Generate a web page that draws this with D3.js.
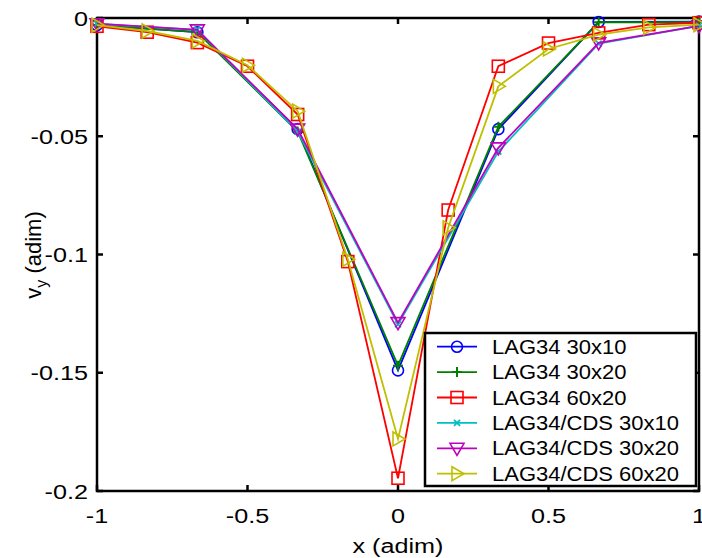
<!DOCTYPE html>
<html><head><meta charset="utf-8">
<script src="https://cdn.jsdelivr.net/npm/d3@7"></script>
<style>
body{margin:0;background:#fff;}
svg{display:block;}
text{font-family:"Liberation Sans",Arial,Helvetica,sans-serif;fill:#000;}
</style></head>
<body><svg id="c" width="702" height="558"></svg>
<script>
const x7 = [-1, -2/3, -1/3, 0, 1/3, 2/3, 1];
const x13 = [-1, -5/6, -2/3, -1/2, -1/3, -1/6, 0, 1/6, 1/3, 1/2, 2/3, 5/6, 1];
const lag30x10 = [-0.003, -0.006, -0.047, -0.149, -0.047, -0.0017, -0.0015];
const lag30x20 = [-0.003, -0.006, -0.048, -0.147, -0.046, -0.0018, -0.0018];
const lag60x20 = [-0.0035, -0.006, -0.0104, -0.0204, -0.0408, -0.103, -0.1946, -0.0812, -0.0204, -0.0106, -0.0063, -0.0028, -0.002];
const cds30x10 = [-0.0025, -0.005, -0.048, -0.1295, -0.0565, -0.0108, -0.0033];
const cds30x20 = [-0.0024, -0.005, -0.047, -0.1288, -0.0549, -0.0105, -0.0033];
const cds60x20 = [-0.003, -0.0055, -0.0097, -0.02, -0.0394, -0.102, -0.178, -0.0887, -0.0289, -0.0131, -0.007, -0.004, -0.0028];
const seriesNames = ["LAG34 30x10","LAG34 30x20","LAG34 60x20","LAG34/CDS 30x10","LAG34/CDS 30x20","LAG34/CDS 60x20"];
const xTicks = [-1, -0.5, 0, 0.5, 1];
const xTickLabels = ["-1", "-0.5", "0", "0.5", "1"];
const yTicks = [0, -0.05, -0.1, -0.15, -0.2];
const yTickLabels = ["0", "-0.05", "-0.1", "-0.15", "-0.2"];
const xLabel = "x (adim)";

const series = [
  {name: seriesNames[0], xs: x7, ys: lag30x10, color: "#0000ff", marker: "circle"},
  {name: seriesNames[1], xs: x7, ys: lag30x20, color: "#008000", marker: "plus"},
  {name: seriesNames[2], xs: x13, ys: lag60x20, color: "#ff0000", marker: "square"},
  {name: seriesNames[3], xs: x7, ys: cds30x10, color: "#00bfbf", marker: "x"},
  {name: seriesNames[4], xs: x7, ys: cds30x20, color: "#bf00bf", marker: "tridown"},
  {name: seriesNames[5], xs: x13, ys: cds60x20, color: "#bfbf00", marker: "triright"}
];

const L = 97, R = 699, T = 18, B = 491;
const svg = d3.select("#c");
const x = d3.scaleLinear().domain([-1, 1]).range([L, R]);
const y = d3.scaleLinear().domain([-0.2, 0]).range([B, T]);
const SX = 1.2;

function marker(g, type, cx, cy, color) {
  const s = 6;
  if (type === "circle") g.append("circle").attr("cx", cx).attr("cy", cy).attr("r", 5.5).attr("fill", "none").attr("stroke", color).attr("stroke-width", 1.6);
  else if (type === "square") g.append("rect").attr("x", cx - s).attr("y", cy - s).attr("width", 2*s).attr("height", 2*s).attr("fill", "none").attr("stroke", color).attr("stroke-width", 1.6);
  else if (type === "plus") g.append("path").attr("d", `M${cx-5},${cy}H${cx+5}M${cx},${cy-5}V${cy+5}`).attr("stroke", color).attr("stroke-width", 2);
  else if (type === "x") g.append("path").attr("d", `M${cx-3},${cy-3}L${cx+3},${cy+3}M${cx-3},${cy+3}L${cx+3},${cy-3}`).attr("stroke", color).attr("stroke-width", 1.8);
  else if (type === "tridown") g.append("path").attr("d", `M${cx-7},${cy-5}H${cx+7}L${cx},${cy+7}Z`).attr("fill", "none").attr("stroke", color).attr("stroke-width", 1.6);
  else if (type === "triright") g.append("path").attr("d", `M${cx-5},${cy-7}V${cy+7}L${cx+7},${cy}Z`).attr("fill", "none").attr("stroke", color).attr("stroke-width", 1.6);
}

function stretchedText(g, tx, ty, anchor, size, str, sx) {
  return g.append("text").attr("transform", `translate(${tx},${ty}) scale(${sx},1)`)
    .attr("text-anchor", anchor).attr("font-size", size).text(str);
}

// axes box
const axes = svg.append("g");
axes.append("rect").attr("x", L).attr("y", T).attr("width", R - L).attr("height", B - T).attr("fill", "none").attr("stroke", "#000").attr("stroke-width", 2.5);

// ticks (inward, all sides)
const tl = 6;
xTicks.forEach((v, i) => {
  axes.append("line").attr("x1", x(v)).attr("x2", x(v)).attr("y1", B).attr("y2", B - tl).attr("stroke", "#000").attr("stroke-width", 2.5);
  axes.append("line").attr("x1", x(v)).attr("x2", x(v)).attr("y1", T).attr("y2", T + tl).attr("stroke", "#000").attr("stroke-width", 2.5);
  stretchedText(axes, x(v), 523, "middle", 21, xTickLabels[i], SX);
});
yTicks.forEach((v, i) => {
  axes.append("line").attr("x1", L).attr("x2", L + tl).attr("y1", y(v)).attr("y2", y(v)).attr("stroke", "#000").attr("stroke-width", 2.5);
  axes.append("line").attr("x1", R).attr("x2", R - tl).attr("y1", y(v)).attr("y2", y(v)).attr("stroke", "#000").attr("stroke-width", 2.5);
  stretchedText(axes, 88, y(v) + 7.5, "end", 21, yTickLabels[i], SX);
});

// labels
stretchedText(svg, x(0), 553, "middle", 21, xLabel, SX);
const yl = svg.append("text").attr("transform", "translate(41,255) rotate(-90)").attr("text-anchor", "middle").attr("font-size", 22);
yl.append("tspan").text("v");
yl.append("tspan").attr("font-size", 16).attr("dy", 6).text("y");
yl.append("tspan").attr("dy", -6).text(" (adim)");

// series
const line = d3.line().x(d => x(d[0])).y(d => y(d[1]));
series.forEach(s => {
  const pts = s.xs.map((v, i) => [v, s.ys[i]]);
  const g = svg.append("g");
  g.append("path").attr("d", line(pts)).attr("fill", "none").attr("stroke", s.color).attr("stroke-width", 1.8);
  pts.forEach(p => marker(g, s.marker, x(p[0]), y(p[1]), s.color));
});

// legend
const lx = 425, ly = 333, lw = 271, lh = 153;
const leg = svg.append("g");
leg.append("rect").attr("x", lx).attr("y", ly).attr("width", lw).attr("height", lh).attr("fill", "#fff").attr("stroke", "#000").attr("stroke-width", 2.5);
series.forEach((s, i) => {
  const cy = 346.7 + i * 25.4;
  leg.append("line").attr("x1", 437).attr("x2", 477).attr("y1", cy).attr("y2", cy).attr("stroke", s.color).attr("stroke-width", 1.8);
  marker(leg, s.marker, 457, cy, s.color);
  stretchedText(leg, 492, cy + 7, "start", 20, s.name, 1.1);
});
</script></body></html>
